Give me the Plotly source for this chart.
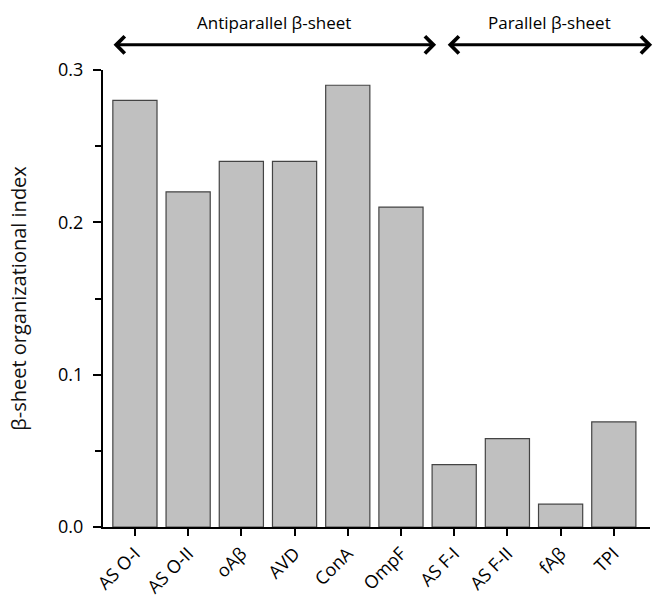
import plotly.graph_objects as go

categories = ["AS O-I", "AS O-II", "oAβ", "AVD", "ConA", "OmpF", "AS F-I", "AS F-II", "fAβ", "TPI"]
values = [0.28, 0.22, 0.24, 0.24, 0.29, 0.21, 0.041, 0.058, 0.015, 0.069]
y_ticks = [0.0, 0.1, 0.2, 0.3]
y_tick_labels = ["0.0", "0.1", "0.2", "0.3"]
group_labels = ["Antiparallel β-sheet", "Parallel β-sheet"]
group_spans = [(-0.43, 5.66), (5.85, 9.72)]

FONT = "Open Sans"

fig = go.Figure()
fig.add_trace(go.Bar(
    x=list(range(len(categories))),
    y=values,
    width=0.83,
    marker=dict(color="#c0c0c0", line=dict(color="#444444", width=1.2)),
))

annotations = []
for label, (a, b) in zip(group_labels, group_spans):
    annotations.append(dict(
        x=b, y=1.055, xref="x", yref="paper",
        ax=a, ay=0, axref="x", ayref="pixel",
        showarrow=True, arrowhead=4, startarrowhead=4, arrowside="end+start",
        arrowwidth=3, arrowsize=1.1, startarrowsize=1.1, arrowcolor="black", text="",
    ))
    annotations.append(dict(
        x=(a + b) / 2, y=1.105, xref="x", yref="paper",
        text=label, showarrow=False,
        font=dict(family=FONT, size=17, color="black"),
        yanchor="middle",
    ))

fig.update_layout(
    width=656, height=600,
    margin=dict(l=103, r=6, t=70, b=73),
    plot_bgcolor="white", paper_bgcolor="white",
    showlegend=False,
    annotations=annotations,
    font=dict(family=FONT, color="black"),
    xaxis=dict(
        range=[-0.6, 9.68],
        automargin=False,
        tickmode="array",
        tickvals=list(range(len(categories))),
        ticktext=categories,
        tickangle=-45,
        ticks="outside", ticklen=7, tickwidth=2, tickcolor="black",
        showline=True, linecolor="black", linewidth=2,
        showgrid=False, zeroline=False,
        tickfont=dict(family=FONT, size=18, color="black"),
    ),
    yaxis=dict(
        range=[0, 0.3],
        automargin=False,
        tickmode="array",
        tickvals=y_ticks,
        ticktext=y_tick_labels,
        ticks="outside", ticklen=8, tickwidth=2, tickcolor="black",
        ticklabelstandoff=6,
        minor=dict(tickvals=[0.05, 0.15, 0.25], ticks="outside", ticklen=6, tickwidth=2, tickcolor="black"),
        showline=True, linecolor="black", linewidth=2,
        showgrid=False, zeroline=False,
        tickfont=dict(family=FONT, size=18, color="black"),
        title=dict(text="β-sheet organizational index", font=dict(family=FONT, size=20, color="#111111"), standoff=26),
    ),
)

fig.write_html("out.html", post_script="document.body.style.margin='0';",
               config={"displayModeBar": False})
